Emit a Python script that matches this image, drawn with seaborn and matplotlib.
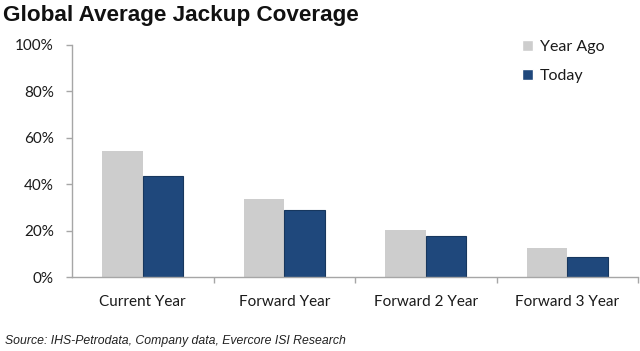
import numpy as np
import pandas as pd
import matplotlib
matplotlib.use('Agg')
import matplotlib.pyplot as plt
import seaborn as sns
from matplotlib.ticker import PercentFormatter, FixedLocator

categories = ['Current Year', 'Forward Year', 'Forward 2 Year', 'Forward 3 Year']
year_ago = [0.545, 0.335, 0.203, 0.124]
today = [0.435, 0.287, 0.177, 0.085]
series = ['Year Ago', 'Today']
colors = ['#CDCDCD', '#1F487C']

df = pd.DataFrame({
    'category': categories * 2,
    'series': ['Year Ago'] * 4 + ['Today'] * 4,
    'value': year_ago + today,
})

sns.set_style('white')
plt.rcParams['font.family'] = ['Lato', 'DejaVu Sans']

fig = plt.figure(figsize=(6.4, 3.51), dpi=100)
ax = fig.add_axes([0.1125, 0.2108, 0.8845, 0.6610])

sns.barplot(data=df, x='category', y='value', hue='series',
            order=categories, hue_order=series, palette=colors,
            width=0.57, gap=0, saturation=1, ax=ax, legend=True)

# darker outline on the navy bars only
for bar in ax.containers[1]:
    bar.set_edgecolor('#17375E')
    bar.set_linewidth(0.8)
for bar in ax.containers[0]:
    bar.set_linewidth(0)

ax.set_ylim(0, 1)
ax.set_xlim(-0.5, 3.5)
ax.set_yticks(np.arange(0, 1.01, 0.2))
ax.yaxis.set_major_formatter(PercentFormatter(1.0, decimals=0))
ax.set_xlabel('')
ax.set_ylabel('')

for s in ['top', 'right']:
    ax.spines[s].set_visible(False)
for s in ['left', 'bottom']:
    ax.spines[s].set_color('#A6A6A6')
    ax.spines[s].set_linewidth(1)

ax.tick_params(axis='y', length=4, width=1, color='#A6A6A6', pad=9,
               labelsize=11, labelcolor='#1A1A1A', left=True)
ax.tick_params(axis='x', which='major', length=0, pad=13,
               labelsize=11, labelcolor='#1A1A1A')
ax.xaxis.set_minor_locator(FixedLocator([0.5, 1.5, 2.5, 3.5]))
ax.tick_params(axis='x', which='minor', length=4, width=1,
               color='#A6A6A6', bottom=True)

handles, labels = ax.get_legend_handles_labels()
ax.legend(handles, labels, loc='upper left', bbox_to_anchor=(0.77, 1.085),
          frameon=False, fontsize=11.5, handlelength=0.7, handleheight=0.7,
          handletextpad=0.4, labelspacing=0.95, labelcolor='#1A1A1A')

fig.text(0.005, 0.955, 'Global Average Jackup Coverage', fontsize=16.2,
         fontweight='bold', family=['Liberation Sans', 'DejaVu Sans'],
         color='#111111', va='center', ha='left')
fig.text(0.008, 0.028, 'Source: IHS-Petrodata, Company data, Evercore ISI Research',
         fontsize=8.8, style='italic', family=['Liberation Sans', 'DejaVu Sans'],
         color='#222222', va='center', ha='left')

fig.savefig('out.png', dpi=100)
